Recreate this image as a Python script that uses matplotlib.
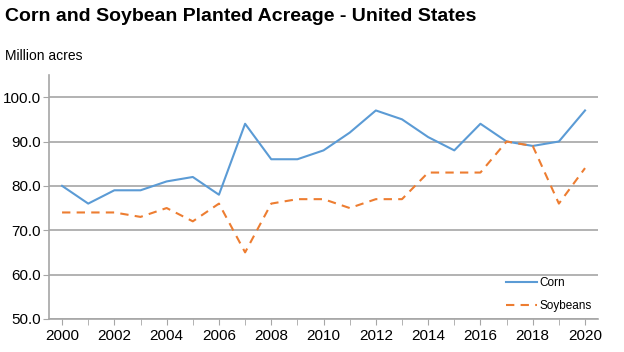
import matplotlib
matplotlib.use("Agg")
import matplotlib.pyplot as plt

plt.rcParams['font.family'] = ['Liberation Sans', 'DejaVu Sans']

years = list(range(2000, 2021))
corn = [80, 76, 79, 79, 81, 82, 78, 94, 86, 86, 88, 92, 97, 95, 91, 88, 94, 90, 89, 90, 97]
soybeans = [74, 74, 74, 73, 75, 72, 76, 65, 76, 77, 77, 75, 77, 77, 83, 83, 83, 90, 89, 76, 84]
xticks = list(range(2000, 2021, 2))
yticks = [50, 60, 70, 80, 90, 100]

fig = plt.figure(figsize=(6.24, 3.52), dpi=100)
ax = fig.add_axes([0.0785, 0.094, 0.88, 0.693])

grid_c = '#a6a6a6'
ax.plot(years, corn, color='#5b9bd5', lw=1.5, label='Corn')
ax.plot(years, soybeans, color='#ed7d31', lw=1.5, ls=(0, (4, 3)), label='Soybeans')

ax.set_xlim(1999.5, 2020.5)
ax.set_ylim(50, 105)
ax.set_xticks(xticks)
ax.set_xticks(years, minor=True)
ax.set_yticks(yticks)
ax.set_yticklabels([f'{v:.1f}' for v in yticks])
ax.yaxis.grid(True, color=grid_c, lw=1.2)
ax.set_axisbelow(True)
for s in ['top', 'right']:
    ax.spines[s].set_visible(False)
for s in ['left', 'bottom']:
    ax.spines[s].set_color(grid_c)
    ax.spines[s].set_linewidth(1.2)
ax.tick_params(axis='x', which='both', length=4, color=grid_c, labelsize=11, pad=3)
ax.tick_params(axis='y', length=4, color=grid_c, labelsize=11, pad=2)

ax.legend(loc='lower left', frameon=False, fontsize=8.5, handlelength=2.6,
          handletextpad=0.25, labelspacing=0.95, borderpad=0, borderaxespad=0,
          bbox_to_anchor=(0.832, 0.027))

fig.text(0.008, 0.940, 'Corn and Soybean Planted Acreage - United States',
         fontsize=14, fontweight='bold', va='baseline')
fig.text(0.008, 0.830, 'Million acres', fontsize=10, va='baseline')

fig.savefig('out.png', dpi=100)
